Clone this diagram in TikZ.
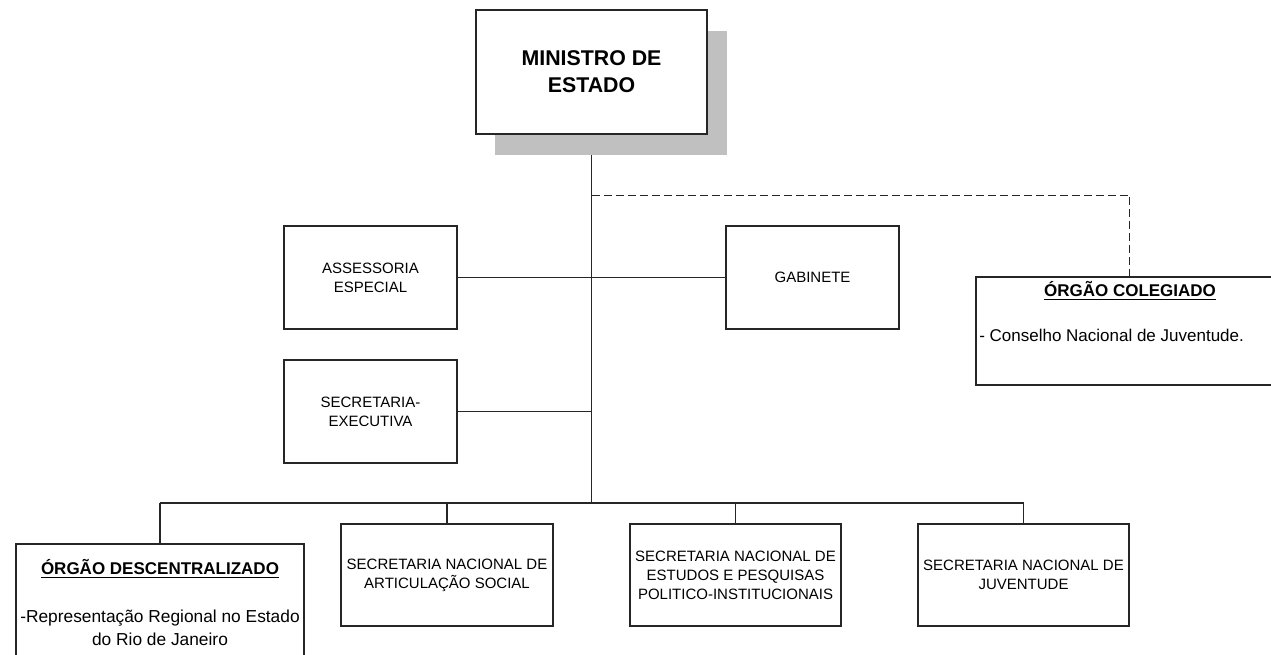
\documentclass[tikz,border=0pt]{standalone}
\usepackage{fontspec}
\setmainfont{Liberation Sans}
\usepackage{xcolor}
\usepackage{tikz}
\definecolor{shadowgray}{RGB}{192,192,192}
\tikzset{
	orgbox/.style 2 args={draw=black!85,line width=1.2pt,fill=white,inner sep=0pt,
		minimum width=#1*0.75pt,minimum height=#2*0.75pt,align=center,
		font=\fontsize{11.25}{14.25}\selectfont},
	bigtext/.style={font=\fontsize{12.75}{17}\selectfont,inner sep=0pt},
	link/.style={line width=0.8pt,black!85}
}

\begin{document}
\begin{tikzpicture}[x=0.75pt,y=-0.75pt]
			\useasboundingbox (0,0) rectangle (1271,655);
			\clip (0,0) rectangle (1271,655);
			\node[fill=shadowgray,inner sep=0pt,minimum width=232*0.75pt,minimum height=124*0.75pt] (minshadow) at (611,93) {};
			\node[orgbox={231}{124},font=\fontsize{16}{20.25}\selectfont\bfseries] (min) at (591.5,72) {MINISTRO DE\\ESTADO};
			\node[orgbox={173}{103}] (assess) at (370.5,277.5) {ASSESSORIA\\ESPECIAL};
			\node[orgbox={173}{103}] (gab) at (812.5,277.5) {GABINETE};
			\node[orgbox={173}{103}] (secex) at (370.5,411.5) {SECRETARIA-\\EXECUTIVA};
			\node[orgbox={308}{108}] (coleg) at (1130,331) {};
			\node[bigtext,font=\fontsize{12.75}{17}\selectfont\bfseries,anchor=base] (colegtitle) at (1130,297) {\underline{ÓRGÃO COLEGIADO}};
			\node[bigtext,anchor=base west] (colegtext) at (979,342) {- Conselho Nacional de Juventude.};
			\node[orgbox={288}{136}] (desc) at (160,612) {};
			\node[bigtext,font=\fontsize{12.75}{17}\selectfont\bfseries,anchor=base] (desctitle) at (160,575) {\underline{ÓRGÃO DESCENTRALIZADO}};
			\node[bigtext,font=\fontsize{13}{17.25}\selectfont,align=center,anchor=base] (desctext) at (160,645) {-Representação Regional no Estado\\do Rio de Janeiro};
			\node[orgbox={212}{102}] (artic) at (447,575) {SECRETARIA NACIONAL DE\\ARTICULAÇÃO SOCIAL};
			\node[orgbox={211}{102}] (estud) at (735.5,575) {SECRETARIA NACIONAL DE\\ESTUDOS E PESQUISAS\\POLITICO-INSTITUCIONAIS};
			\node[orgbox={211}{102}] (juv) at (1023.5,575) {SECRETARIA NACIONAL DE\\JUVENTUDE};
			\coordinate (bus) at (591.5,503);
			\coordinate (dashknee) at (1129,195);
			\draw[link] (minshadow.south -| min.south) -- (bus);
			\draw[link] (assess.east) -- (gab.west);
			\draw[link] (secex.east) -- (secex.east -| bus);
			\draw[link,line width=0.6pt,dash pattern=on 6pt off 3pt] (min.south |- dashknee) -- (dashknee) -- (dashknee |- coleg.north);
			\draw[link] (desc.north |- bus) -- (juv.north |- bus);
			\foreach \n in {desc,artic,estud,juv} {
				\draw[link] (\n.north) -- (\n.north |- bus);
			}
		\end{tikzpicture}
\end{document}
